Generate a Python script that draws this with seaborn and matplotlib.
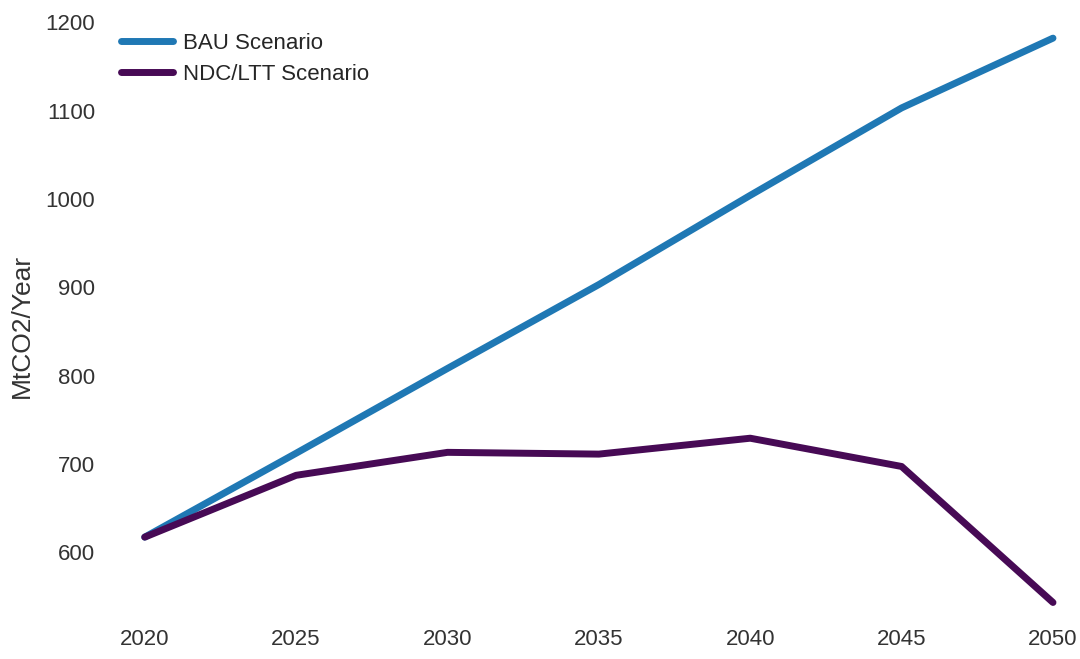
import pandas as pd
import matplotlib.pyplot as plt
import seaborn as sns

# data
years = [2020, 2025, 2030, 2035, 2040, 2045, 2050]
bau = [617, 712, 808, 903, 1004, 1103, 1182]
ndc = [617, 687, 713, 711, 729, 697, 543]
scenarios = ['BAU Scenario', 'NDC/LTT Scenario']
colors = ['#1f78b4', '#470a55']

df = pd.DataFrame({
    'Year': years * 2,
    'Emissions': bau + ndc,
    'Scenario': [scenarios[0]] * len(years) + [scenarios[1]] * len(years),
})

sns.set_style('white')
plt.rcParams['font.family'] = ['Liberation Sans', 'DejaVu Sans']

f, ax = plt.subplots(figsize=(10.8, 6.59), dpi=100)
f.subplots_adjust(left=0.120, right=0.989, bottom=0.067, top=0.985)

sns.lineplot(x='Year', y='Emissions', data=df, hue='Scenario',
             palette=dict(zip(scenarios, colors)), linewidth=5, ax=ax,
             solid_capstyle='round')
sns.despine(f, left=True, bottom=True)

ax.set_xlim(2019.5, 2050.5)
ax.set_ylim(529, 1214)
ax.set_xticks(years)
ax.set_yticks([600, 700, 800, 900, 1000, 1100, 1200])
ax.tick_params(axis='x', labelsize=16, colors='#333333', pad=10, length=0)
ax.tick_params(axis='y', labelsize=16, colors='#333333', pad=25, length=0)
ax.set_xlabel('')
ax.set_ylabel('MtCO2/Year', fontsize=19, color='#333333', labelpad=8)
ax.yaxis.label.set_y(0.478)

leg = ax.legend(loc='upper left', frameon=False, fontsize=16, handlelength=2.35,
                handletextpad=0.45, bbox_to_anchor=(-0.031, 0.995), labelspacing=0.45)
for line in leg.get_lines():
    line.set_linewidth(5)
    line.set_solid_capstyle('round')

plt.savefig('out.png', dpi=100)
